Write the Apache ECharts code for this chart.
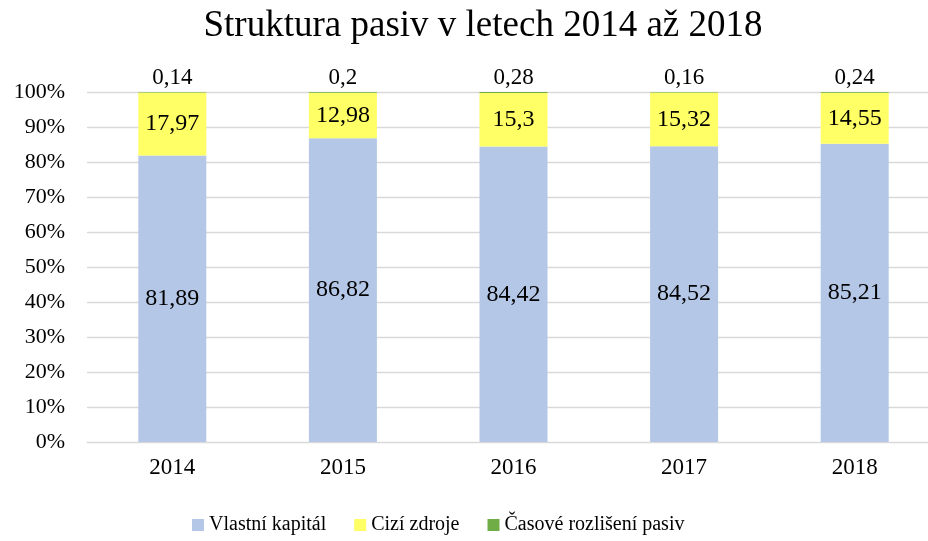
<!DOCTYPE html>
<html><head><meta charset="utf-8">
<script src="https://cdn.jsdelivr.net/npm/echarts@6/dist/echarts.min.js"></script>
<style>html,body{margin:0;padding:0;background:#fff}#c{width:928px;height:541px}</style>
</head><body><div id="c"></div>
<script>
const categories = ['2014','2015','2016','2017','2018'];
const vlastniKapital = [81.89, 86.82, 84.42, 84.52, 85.21];
const ciziZdroje = [17.97, 12.98, 15.3, 15.32, 14.55];
const casoveRozliseni = [0.14, 0.2, 0.28, 0.16, 0.24];
const yTicks = [0,10,20,30,40,50,60,70,80,90,100];

const serif = '"Liberation Serif", "Times New Roman", serif';
const fmt = p => String(p.value).replace('.', ',');
const chart = echarts.init(document.getElementById('c'));
chart.setOption({
  animation: false,
  textStyle: {fontFamily: serif},
  title: {text: 'Struktura pasiv v letech 2014 až 2018', left: 478, top: 3, textAlign: 'center',
    textStyle: {fontFamily: serif, fontSize: 37, fontWeight: 'normal', color: '#000'}},
  legend: {bottom: 1, left: 187, itemWidth: 12, itemHeight: 12, itemGap: 28, icon: 'rect',
    textStyle: {fontFamily: serif, fontSize: 20, color: '#000'},
    data: ['Vlastní kapitál','Cizí zdroje','Časové rozlišení pasiv']},
  grid: {left: 87, right: -12, top: 92, bottom: 99, containLabel: false, outerBoundsMode: 'none'},
  xAxis: {type: 'category', data: categories,
    axisLine: {lineStyle: {color: '#d9d9d9'}}, axisTick: {show: false},
    axisLabel: {fontFamily: serif, fontSize: 23, color: '#000', margin: 14}},
  yAxis: {type: 'value', min: 0, max: 100, interval: 10,
    axisLabel: {fontFamily: serif, fontSize: 22, color: '#000', margin: 22,
      formatter: v => yTicks.includes(v) ? v + '%' : ''},
    splitLine: {lineStyle: {color: '#d9d9d9', width: 1.3}}, axisLine: {show: false}},
  series: [
    {name: 'Vlastní kapitál', type: 'bar', stack: 's', barWidth: 68, data: vlastniKapital,
      itemStyle: {color: '#b4c7e7'},
      label: {show: true, position: 'inside', formatter: fmt, fontFamily: serif, fontSize: 24, color: '#000'}},
    {name: 'Cizí zdroje', type: 'bar', stack: 's', data: ciziZdroje,
      itemStyle: {color: '#ffff66'},
      label: {show: true, position: 'inside', formatter: fmt, fontFamily: serif, fontSize: 24, color: '#000'}},
    {name: 'Časové rozlišení pasiv', type: 'bar', stack: 's', data: casoveRozliseni,
      itemStyle: {color: '#70ad47'},
      label: {show: true, position: 'top', distance: 3, formatter: fmt, fontFamily: serif, fontSize: 23, color: '#000'}}
  ]
});
</script></body></html>
